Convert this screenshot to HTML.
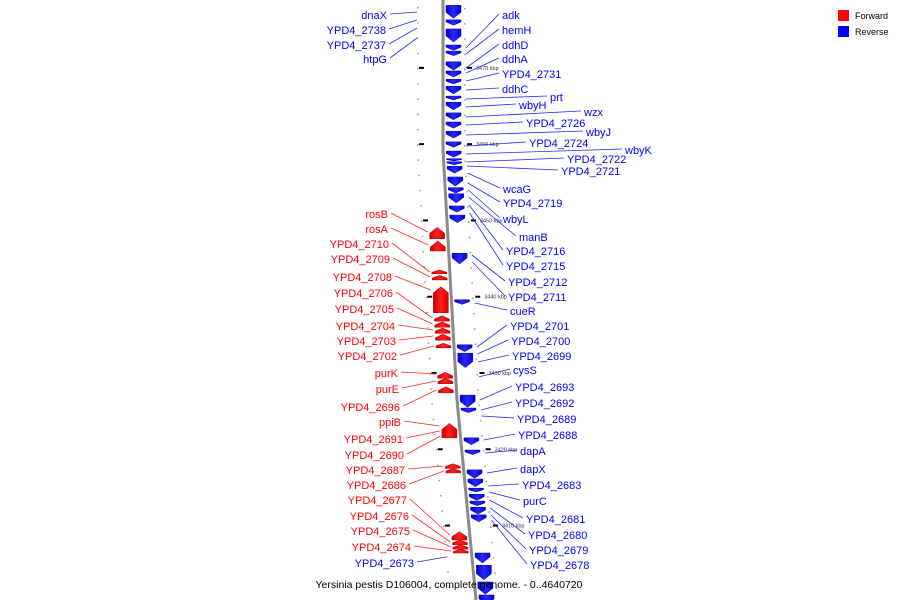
<!DOCTYPE html>
<html><head><meta charset="utf-8"><style>
html,body{margin:0;padding:0;background:#fff}
svg{display:block;font-family:"Liberation Sans",sans-serif}
</style></head><body>
<svg id="c" width="900" height="600" viewBox="0 0 900 600" xmlns="http://www.w3.org/2000/svg">
<defs>
<linearGradient id="gb" x1="0" x2="1"><stop offset="0" stop-color="#0000c8"/><stop offset="0.5" stop-color="#2a2aff"/><stop offset="1" stop-color="#0000d8"/></linearGradient>
<linearGradient id="gr" x1="0" x2="1"><stop offset="0" stop-color="#d00000"/><stop offset="0.5" stop-color="#ff2020"/><stop offset="1" stop-color="#d80000"/></linearGradient>
<linearGradient id="ax" x1="0" x2="1"><stop offset="0" stop-color="#777"/><stop offset="0.5" stop-color="#bbb"/><stop offset="1" stop-color="#777"/></linearGradient>
</defs>
<g id="ticks"></g>
<g id="axis"></g>
<g id="leaders"></g>
<g id="genes"></g>
<g id="labels"></g>
<g>
<rect x="838" y="10" width="11" height="11" fill="#f00"/><text x="855" y="19" font-size="9">Forward</text>
<rect x="838" y="26" width="11" height="11" fill="#00f"/><text x="855" y="35" font-size="9">Reverse</text>
</g>
<text x="449" y="588" font-size="10.5" text-anchor="middle" fill="#000">Yersinia pestis D106004, complete genome. - 0..4640720</text>
</svg>
<script>
// gene data (kbp)
const blueStart=[3478.2,3476.3,3475.1,3473.0,3472.2,3470.8,3469.6,3468.5,3467.6,3466.3,3465.5,3464.1,3462.9,3461.7,3460.3,3459.1,3458.1,3457.7,3457.1,3455.7,3454.3,3453.5,3451.9,3450.7,3445.7,3439.6,3433.7,3432.6,3427.1,3425.4,3421.5,3419.9,3417.3,3416.1,3414.9,3414.1,3413.2,3412.4,3411.4,3406.4,3404.8,3402.6,3400.9];
const blueEnd=[3476.5,3475.6,3473.4,3472.3,3471.6,3469.7,3468.8,3467.9,3466.6,3465.8,3464.5,3463.2,3462.1,3460.8,3459.6,3458.3,3457.8,3457.3,3456.2,3454.5,3453.6,3452.3,3451.1,3449.7,3444.3,3439.0,3432.8,3430.7,3425.5,3424.8,3420.6,3419.3,3416.2,3415.1,3414.4,3413.3,3412.6,3411.5,3410.5,3405.1,3402.9,3401.0,3399.6];
const redStart=[3449.1,3447.3,3443.5,3442.8,3441.3,3437.5,3436.7,3435.9,3435.1,3433.9,3430.1,3429.3,3428.2,3423.4,3418.1,3417.5,3409.2,3408.1,3407.5,3406.9];
const redEnd=[3447.6,3446.0,3443.0,3442.2,3437.9,3436.8,3436.0,3435.2,3434.3,3433.3,3429.3,3428.6,3427.4,3421.5,3417.5,3416.9,3408.1,3407.5,3406.9,3406.4];
const scaleTicks=[3470,3460,3450,3440,3430,3420,3410];
// labels: name, colour, side, text anchor x, text y, target y
const labNames=["dnaX","YPD4_2738","YPD4_2737","htpG","adk","hemH","ddhD","ddhA","YPD4_2731","ddhC","prt","wbyH","wzx","YPD4_2726","wbyJ","YPD4_2724","wbyK","YPD4_2722","YPD4_2721","wcaG","YPD4_2719","wbyL","manB","YPD4_2716","YPD4_2715","YPD4_2712","YPD4_2711","cueR","YPD4_2701","YPD4_2700","YPD4_2699","cysS","YPD4_2693","YPD4_2692","YPD4_2689","YPD4_2688","dapA","dapX","YPD4_2683","purC","YPD4_2681","YPD4_2680","YPD4_2679","YPD4_2678","YPD4_2673",
"rosB","rosA","YPD4_2710","YPD4_2709","YPD4_2708","YPD4_2706","YPD4_2705","YPD4_2704","YPD4_2703","YPD4_2702","purK","purE","YPD4_2696","ppiB","YPD4_2691","YPD4_2690","YPD4_2687","YPD4_2686","YPD4_2677","YPD4_2676","YPD4_2675","YPD4_2674"];
const labColor="BBBBBBBBBBBBBBBBBBBBBBBBBBBBBBBBBBBBBBBBBBBBBRRRRRRRRRRRRRRRRRRRRRR";
const labSide ="LLLLRRRRRRRRRRRRRRRRRRRRRRRRRRRRRRRRRRRRRRRRLLLLLLLLLLLLLLLLLLLLLLL";
const labX=[387,386,386,387,502,502,502,502,502,502,550,519,584,526,586,529,625,567,561,503,503,503,519,506,506,508,508,510,510,511,512,513,515,515,517,518,520,520,522,523,526,528,529,530,414,
388,388,389,390,392,393,394,395,396,397,398,399,400,401,403,404,405,406,407,409,410,411];
const labY=[15,30,45,59,15,30,45,59,74,89,97,105,112,123,132,143,150,159,171,189,203,219,237,251,266,282,297,311,326,341,356,370,387,403,419,435,451,469,485,501,519,535,550,565,563,
214,229,244,259,277,293,309,326,341,356,373,389,407,422,439,455,470,485,500,516,531,547];
const labTarget=[12,20,28,38,48,54,68,73,81,90,99,107,117,125,135,146,154,162,166,173,183,190,197,205,213,255,262,303,347,354,362,377,400,410,416,440,453,473,486,492,500,508,515,520,557,
232,245,272,277,290,318,324,330,336,346,374,381,390,426,431,436,466,471,535,542,547,551];

const NS="http://www.w3.org/2000/svg";
function yScale(k){return (3478.9-k)/0.1311;}
function axisX(y){ if(y<150) return 443; if(y<400) return 443+(y-150)*14/250; return 457+(y-400)*19/200; }
function mk(t,a,p){const e=document.createElementNS(NS,t);for(const k in a)e.setAttribute(k,a[k]);p.appendChild(e);return e;}
const gAxis=document.getElementById('axis'),gG=document.getElementById('genes'),gL=document.getElementById('labels'),gLd=document.getElementById('leaders'),gT=document.getElementById('ticks');
// axis line
let pts=[];for(let y=0;y<=600;y+=10)pts.push(axisX(y)+','+y);
const ax=mk('polyline',{points:pts.join(' '),fill:'none',stroke:'#8a8a8a','stroke-width':3},gAxis);


// minor dots
for(let k=3478;k>=3399;k-=2){const y=yScale(k);const x=axisX(y);
 const d1=mk('rect',{x:x-26,y:y,width:1.5,height:1.5,fill:'#999'},gT);
 
 
 const d2=mk('rect',{x:x+21,y:y+1,width:1.5,height:1.5,fill:'#999'},gT);
 
 }
scaleTicks.forEach(k=>{const y=yScale(k);const x=axisX(y);
 const t1=mk('rect',{x:x-24,y:y-1,width:5,height:2,fill:'#000'},gT);
 
 
 const t2=mk('rect',{x:x+24,y:y-1,width:5,height:2,fill:'#000'},gT);
 
 
 const tx=mk('text',{x:x+33,y:y+2,'font-size':5.5,fill:'#333'},gT);tx.textContent=k+' kbp';
 
 });
function gene(s,e,rev){const y0=yScale(s),y1=yScale(e);const h=y1-y0;const ym=(y0+y1)/2;const xm=axisX(ym);
 const head=Math.min(h*0.6,6);let p;
 if(rev){const l=xm+3,r=xm+18,c=(l+r)/2;p=[[l,y0],[r,y0],[r,y1-head],[c,y1],[l,y1-head]];}
 else{const l=xm-18,r=xm-3,c=(l+r)/2;p=[[c,y0],[r,y0+head],[r,y1],[l,y1],[l,y0+head]];}
 const el=mk('polygon',{points:p.map(q=>q.join(',')).join(' '),fill:rev?'url(#gb)':'url(#gr)',stroke:rev?'#0000b0':'#b00000','stroke-width':0.5},gG);
 
 }
blueStart.forEach((s,i)=>gene(s,blueEnd[i],true));
redStart.forEach((s,i)=>gene(s,redEnd[i],false));
labNames.forEach((n,i)=>{const col=labColor[i]==='B'?'#0000ff':'#ff0000';const left=labSide[i]==='L';
 const ty=labTarget[i];const ax0=axisX(ty);
 const tx=left?ax0-(labColor[i]==='B'?26:20):ax0+(labColor[i]==='B'?21:0)+2;
 const lx=left?labX[i]+3:labX[i]-3;
 const ln=mk('line',{x1:lx,y1:labY[i]-1,x2:tx,y2:ty,stroke:col,'stroke-width':0.8,opacity:0.85},gLd);
 
 
 const t=mk('text',{x:labX[i],y:labY[i]+4,'font-size':11,fill:col,'text-anchor':left?'end':'start'},gL);
 t.textContent=n;
 
 });
</script>
</body></html>
